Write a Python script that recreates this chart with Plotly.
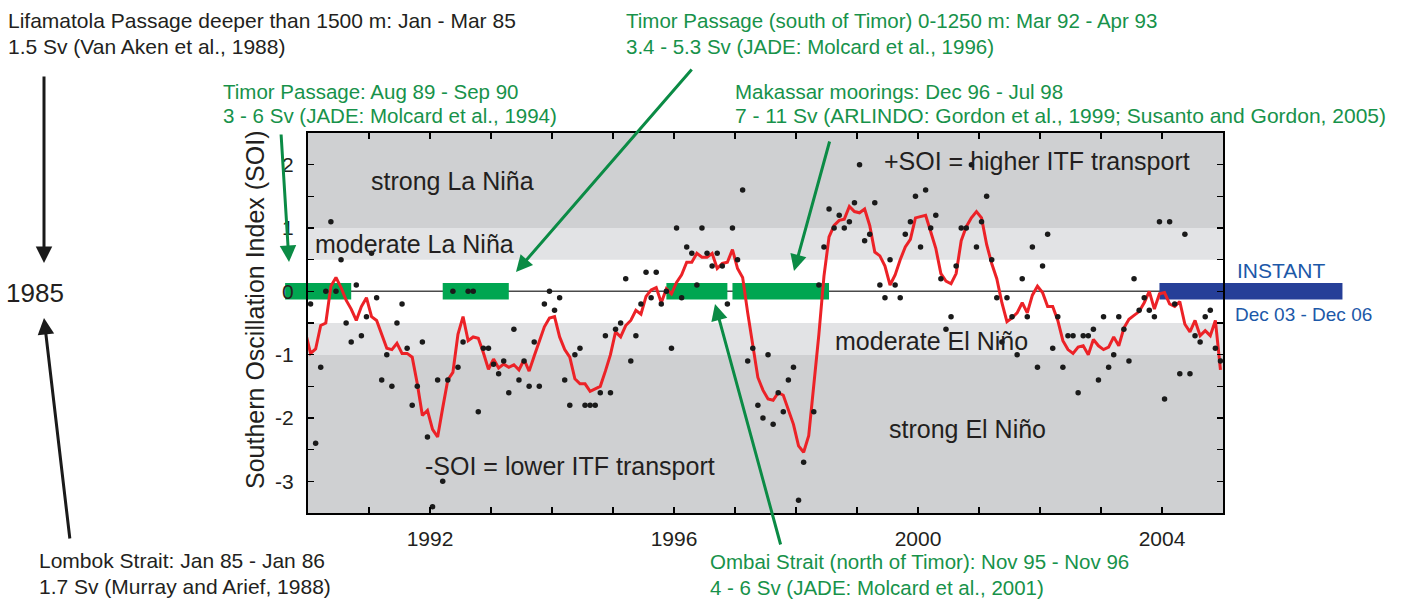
import plotly.graph_objects as go

# ---------------- data ----------------
# Monthly Southern Oscillation Index, Jan 1990 .. Dec 2004 (black dots)
soi_monthly = [
    -0.2, -2.4, -1.2, 0.0, 1.1, 0.0, 0.5, -0.5, -0.8, 0.1, -0.7, -0.4,      # 1990
    0.6, -0.1, -1.4, -1.0, -1.5, -0.5, -0.2, -0.9, -1.8, -1.5, -0.8, -2.3,   # 1991
    -3.4, -1.4, -3.0, -1.4, 0.0, -1.2, -0.8, 0.0, 0.0, -1.9, -0.9, -0.9,     # 1992
    -1.15, -1.3, -1.1, -1.6, -0.6, -1.4, -1.1, -1.5, -0.8, -1.5, -0.2, 0.0,  # 1993
    -0.3, -0.1, -1.4, -1.8, -1.0, -0.9, -1.8, -1.8, -1.8, -1.6, -0.7, -1.6,  # 1994
    -0.6, -0.5, 0.2, -1.1, -0.7, -0.2, 0.3, -0.1, 0.3, -0.2, 0.0, -0.9,      # 1995
    1.0, -0.1, 0.7, 0.6, 0.1, 1.0, 0.6, 0.4, 0.6, 0.4, -0.2, 1.0,            # 1996
    0.5, 1.6, -1.1, -0.9, -1.8, -2.0, -1.0, -2.1, -1.6, -1.9, -1.4, -1.2,    # 1997
    -3.3, -2.7, -3.6, -1.9, 0.1, 0.7, 1.3, 1.0, 1.2, 1.0, 1.1, 1.4,          # 1998
    2.0, 0.8, 0.9, 1.4, 0.1, -0.1, 0.5, 0.1, -0.1, 0.9, 1.1, 1.5,            # 1999
    0.7, 1.6, 1.0, 1.2, 0.2, -0.6, -0.4, 0.4, 1.0, 1.0, 2.0, 0.7,            # 2000
    1.1, 1.5, 0.5, -0.1, -0.8, -0.1, -0.4, -1.0, 0.2, -0.4, 0.7, -1.2,       # 2001
    0.4, 0.9, -0.9, -0.4, -1.2, -0.7, -0.7, -1.6, -0.7, -0.7, -0.6, -1.4,    # 2002
    -0.4, -1.2, -1.0, -0.4, -0.6, -1.1, 0.2, -0.3, -0.1, -0.3, -0.4, 1.1,    # 2003
    -1.7, 1.1, -0.2, -1.3, 0.9, -1.3, -0.7, -0.8, -0.4, -0.3, -0.9, -1.1,    # 2004
]

# Smoothed SOI (red line), Dec 1989 .. Dec 2004
soi_smoothed_dec1989 = -0.65
soi_smoothed = [
    -0.98, -0.91, -0.54, -0.50, 0.08, 0.22, 0.06, -0.14, -0.28, -0.46, -0.24, -0.10,    # 1990
    -0.40, -0.46, -0.68, -0.90, -0.92, -0.82, -0.98, -0.98, -1.04, -1.46, -1.96, -1.88, # 1991
    -2.18, -2.30, -1.84, -1.40, -1.28, -0.68, -0.40, -0.78, -0.72, -0.74, -0.97, -1.23, # 1992
    -1.07, -1.21, -1.15, -1.20, -1.16, -1.24, -1.08, -1.26, -1.02, -0.80, -0.56, -0.42, # 1993
    -0.40, -0.72, -0.92, -1.04, -1.38, -1.46, -1.46, -1.58, -1.54, -1.50, -1.26, -1.00, # 1994
    -0.64, -0.72, -0.54, -0.46, -0.30, -0.36, -0.08, 0.02, 0.06, -0.18, 0.04, -0.04,    # 1995
    0.14, 0.26, 0.46, 0.46, 0.60, 0.54, 0.54, 0.60, 0.36, 0.44, 0.46, 0.66,             # 1996
    0.36, 0.22, -0.34, -0.84, -1.36, -1.56, -1.70, -1.72, -1.60, -1.64, -1.88, -2.10,   # 1997
    -2.44, -2.54, -2.28, -1.48, -0.68, 0.24, 0.86, 1.04, 1.12, 1.14, 1.34, 1.26,        # 1998
    1.24, 1.30, 1.04, 0.62, 0.56, 0.40, 0.10, 0.26, 0.50, 0.70, 0.82, 1.16,             # 1999
    1.18, 1.20, 0.94, 0.68, 0.28, 0.16, 0.12, 0.28, 0.80, 1.02, 1.16, 1.26,             # 2000
    1.16, 0.74, 0.44, 0.20, -0.18, -0.48, -0.42, -0.34, -0.18, -0.34, -0.06, 0.08,      # 2001
    -0.02, -0.24, -0.24, -0.46, -0.78, -0.92, -0.98, -0.88, -0.86, -1.00, -0.76, -0.86, # 2002
    -0.92, -0.88, -0.72, -0.86, -0.58, -0.44, -0.38, -0.32, -0.18, 0.00, -0.28, -0.04,  # 2003
    -0.02, -0.20, -0.24, -0.16, -0.52, -0.64, -0.46, -0.70, -0.62, -0.70, -0.46, -1.24, # 2004
]

first_year = 1990

# Measurement periods (year, month) -> bars at SOI = 0
period_names = ["Timor Passage 89-90", "Timor Passage 92-93", "Ombai Strait",
                "Makassar moorings", "INSTANT"]
period_start = [(1989, 8), (1992, 3), (1995, 11), (1996, 12), (2003, 12)]
period_end = [(1990, 9), (1993, 4), (1996, 11), (1998, 7), (2006, 12)]

# ENSO category thresholds (SOI)
strong_threshold = 1.0
moderate_threshold = 0.5

y_ticks = [-3, -2.5, -2, -1.5, -1, -0.5, 0, 0.5, 1, 1.5, 2]
y_tick_text = ["-3", "", "-2", "", "-1", "", "0", "", "1", "", "2"]
x_ticks = list(range(1991, 2005))
x_tick_text = [str(y) if y % 4 == 0 else "" for y in x_ticks]

# ---------------- styles / layout constants ----------------
W, H = 1413, 599
FRAME_L, FRAME_R, FRAME_T, FRAME_B = 308, 1223, 133, 513
X_MIN, X_MAX = 1990, 2005
Y_MIN, Y_MAX = -3.5, 2.5
BAR_HALF = 0.13
FONT = "Liberation Sans, Arial, Helvetica, sans-serif"
TXT = "#231f20"
GREEN_TXT = "#17924a"
GREEN_ARROW = "#0b8b45"
GREEN_BAR = "#00a651"
BLUE_BAR = "#263f98"
BLUE_TXT = "#1c58a8"
DARK_BAND = "#cfd0d2"
LIGHT_BAND = "#e2e3e5"
period_colors = [GREEN_BAR, GREEN_BAR, GREEN_BAR, GREEN_BAR, BLUE_BAR]

px_per_year = (FRAME_R - FRAME_L) / (X_MAX - X_MIN)
wide_range = [X_MIN - FRAME_L / px_per_year, X_MAX + (W - FRAME_R) / px_per_year]


def month_mid(year, month):
    return year + (month - 0.5) / 12.0


dot_x = [month_mid(first_year + i // 12, i % 12 + 1) for i in range(len(soi_monthly))]
line_x = [month_mid(first_year - 1, 12)] + dot_x
line_y = [soi_smoothed_dec1989] + soi_smoothed

starts = [month_mid(*s) for s in period_start]
ends = [month_mid(*e) for e in period_end]

fig = go.Figure()

# measurement-period bars (wide axis so they may run past the frame)
fig.add_trace(go.Bar(
    y=[0] * len(starts), x=[e - s for s, e in zip(starts, ends)], base=starts,
    orientation="h", width=2 * BAR_HALF, text=period_names, textposition="none",
    marker=dict(color=period_colors, line=dict(width=0)),
    xaxis="x", yaxis="y", hoverinfo="skip", showlegend=False))

fig.add_trace(go.Scatter(
    x=line_x, y=line_y, mode="lines",
    line=dict(color="#ec2227", width=3), xaxis="x2", yaxis="y", showlegend=False))

fig.add_trace(go.Scatter(
    x=dot_x, y=soi_monthly, mode="markers",
    marker=dict(color="#1a1a1a", size=5.5, line=dict(width=0)),
    xaxis="x2", yaxis="y", showlegend=False))

# background bands + zero line (below everything)
shapes = []
for y0, y1, col in [(strong_threshold, Y_MAX, DARK_BAND),
                    (moderate_threshold, strong_threshold, LIGHT_BAND),
                    (-strong_threshold, -moderate_threshold, LIGHT_BAND),
                    (Y_MIN, -strong_threshold, DARK_BAND)]:
    shapes.append(dict(type="rect", xref="x", yref="y", x0=X_MIN, x1=X_MAX, y0=y0, y1=y1,
                       fillcolor=col, line=dict(width=0), layer="below"))
shapes.append(dict(type="line", xref="x", yref="y", x0=X_MIN, x1=X_MAX, y0=0, y1=0,
                   line=dict(color="#4a4a4a", width=1.5), layer="below"))


def pxx(px):
    return px / W


def pxy(py):
    return (FRAME_B - py) / (FRAME_B - FRAME_T)


annotations = []


def txt(px, py, s, color, size=20.5, xanchor="left"):
    annotations.append(dict(x=pxx(px), y=pxy(py), xref="paper", yref="paper", text=s,
                            showarrow=False, xanchor=xanchor, yanchor="middle",
                            font=dict(family=FONT, size=size, color=color)))


def arrow(tail, head, color, width=3):
    annotations.append(dict(x=pxx(head[0]), y=pxy(head[1]), xref="paper", yref="paper",
                            ax=tail[0] - head[0], ay=tail[1] - head[1], text="",
                            showarrow=True, arrowhead=2, arrowsize=1.1, arrowwidth=width,
                            arrowcolor=color, standoff=0, startstandoff=0))


def band_label(x, y, s):
    annotations.append(dict(x=x, y=y, xref="x2", yref="y", text=s, showarrow=False,
                            xanchor="left", yanchor="middle",
                            font=dict(family=FONT, size=25, color=TXT)))


txt(6, 20, "Lifamatola Passage deeper than 1500 m: Jan - Mar 85", TXT, size=21)
txt(6, 46, "1.5 Sv (Van Aken et al., 1988)", TXT, size=21)
txt(35, 293, "1985", TXT, size=26, xanchor="center")
txt(37, 560, "Lombok Strait: Jan 85 - Jan 86", TXT, size=21)
txt(37, 586, "1.7 Sv (Murray and Arief, 1988)", TXT, size=21)

txt(624, 20, "Timor Passage (south of Timor) 0-1250 m: Mar 92 - Apr 93", GREEN_TXT)
txt(624, 46, "3.4 - 5.3 Sv (JADE: Molcard et al., 1996)", GREEN_TXT)
txt(221, 91, "Timor Passage: Aug 89 - Sep 90", GREEN_TXT)
txt(221, 116, "3 - 6 Sv (JADE: Molcard et al., 1994)", GREEN_TXT)
txt(733, 91, "Makassar moorings: Dec 96 - Jul 98", GREEN_TXT)
txt(733, 116, "7 - 11 Sv (ARLINDO: Gordon et al., 1999; Susanto and Gordon, 2005)", GREEN_TXT,
    size=21)
txt(708, 561, "Ombai Strait (north of Timor): Nov 95 - Nov 96", GREEN_TXT)
txt(708, 587, "4 - 6 Sv (JADE: Molcard et al., 2001)", GREEN_TXT)

txt(1235, 270, "INSTANT", BLUE_TXT, size=21)
txt(1233, 314, "Dec 03 - Dec 06", BLUE_TXT, size=19)

arrow((44, 75), (44, 263), "#1a1a1a", 3)
arrow((70, 540), (44, 318), "#1a1a1a", 3)
arrow((281, 133), (289, 262), GREEN_ARROW)
arrow((693, 68), (516, 272), GREEN_ARROW)
arrow((830, 140), (794, 271), GREEN_ARROW)
arrow((781, 546), (715, 304), GREEN_ARROW)

band_label(1991.0, 1.74, "strong La Niña")
band_label(1990.08, 0.74, "moderate La Niña")
band_label(1999.41, 2.06, "+SOI = higher ITF transport")
band_label(1998.61, -0.78, "moderate El Niño")
band_label(1999.49, -2.18, "strong El Niño")
band_label(1991.89, -2.76, "-SOI = lower ITF transport")

annotations.append(dict(x=pxx(255), y=pxy(309), xref="paper", yref="paper",
                        text="Southern Oscillation Index (SOI)", showarrow=False,
                        textangle=-90, xanchor="center", yanchor="middle",
                        font=dict(family=FONT, size=25, color=TXT)))

fig.update_layout(
    width=W, height=H, autosize=False,
    margin=dict(l=0, r=0, t=FRAME_T, b=H - FRAME_B, pad=0),
    paper_bgcolor="white", plot_bgcolor="rgba(0,0,0,0)",
    showlegend=False, barmode="overlay", hovermode=False,
    font=dict(family=FONT, color=TXT),
    shapes=shapes, annotations=annotations,
    xaxis=dict(domain=[0, 1], range=wide_range, visible=False, anchor="y",
               fixedrange=True),
    xaxis2=dict(domain=[FRAME_L / W, FRAME_R / W], range=[X_MIN, X_MAX], anchor="y",
                tickmode="array", tickvals=x_ticks, ticktext=x_tick_text,
                ticks="inside", ticklen=6, tickwidth=1.5, tickcolor="black",
                showline=True, linecolor="black", linewidth=2, mirror="ticks",
                showgrid=False, zeroline=False, ticklabelstandoff=6,
                tickfont=dict(family=FONT, size=21, color=TXT)),
    yaxis=dict(domain=[0, 1], range=[Y_MIN, Y_MAX], anchor="x2",
               tickmode="array", tickvals=y_ticks, ticktext=y_tick_text,
               ticks="inside", ticklen=6, tickwidth=1.5, tickcolor="black",
               showline=True, linecolor="black", linewidth=2, mirror="ticks",
               showgrid=False, zeroline=False, ticklabelstandoff=8,
               tickfont=dict(family=FONT, size=21, color=TXT)),
)

fig.write_html("out.html",
               config={"displayModeBar": False, "staticPlot": True},
               post_script="document.body.style.margin='0px';"
                           "document.body.style.overflow='hidden';")
